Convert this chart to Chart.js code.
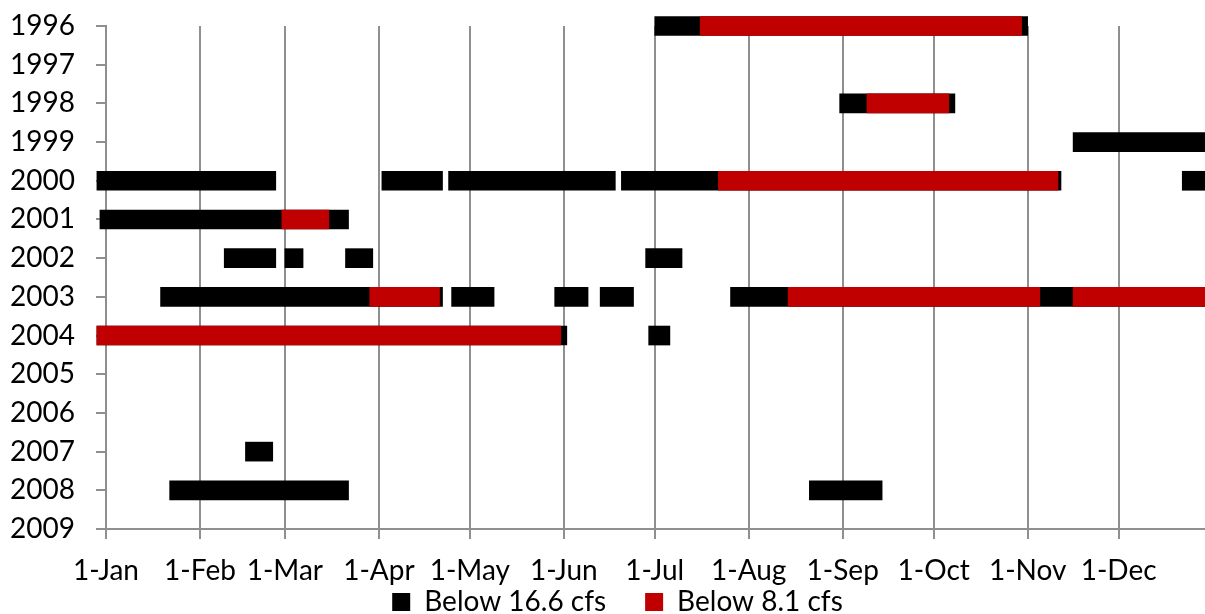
<!DOCTYPE html>
<html>
<head>
<meta charset="utf-8">
<script src="https://cdn.jsdelivr.net/npm/chart.js@4"></script>
<style>
  html, body { margin: 0; padding: 0; background: #ffffff; overflow: hidden; }
  #wrap { width: 1205px; height: 614px; position: relative; }
</style>
</head>
<body>
<div id="wrap"><canvas id="c" width="1205" height="614"></canvas></div>
<script>
// Categories (years, top to bottom)
const years = ['1996','1997','1998','1999','2000','2001','2002','2003','2004','2005','2006','2007','2008','2009'];

// Month tick positions (day of year) and labels
const monthStartDays = [0, 31, 59, 90, 120, 151, 181, 212, 243, 273, 304, 334];
const monthLabels = ['1-Jan','1-Feb','1-Mar','1-Apr','1-May','1-Jun','1-Jul','1-Aug','1-Sep','1-Oct','1-Nov','1-Dec'];

// Periods below 16.6 cfs: [year, start day, end day]
const below166 = [
  ['1996', 181, 304],
  ['1998', 242, 280],
  ['1999', 319, 365],
  ['2000', -3, 56], ['2000', 91, 111], ['2000', 113, 168], ['2000', 170, 315], ['2000', 355, 365],
  ['2001', -2, 80],
  ['2002', 39, 56], ['2002', 59, 65], ['2002', 79, 88], ['2002', 178, 190],
  ['2003', 18, 111], ['2003', 114, 128], ['2003', 148, 159], ['2003', 163, 174], ['2003', 206, 365],
  ['2004', -3, 152], ['2004', 179, 186],
  ['2007', 46, 55],
  ['2008', 21, 80], ['2008', 232, 256]
];

// Periods below 8.1 cfs: [year, start day, end day]
const below81 = [
  ['1996', 196, 302],
  ['1998', 251, 278],
  ['2000', 202, 314],
  ['2001', 58, 73.5],
  ['2003', 87, 110], ['2003', 225, 308], ['2003', 319, 365],
  ['2004', -3, 150]
];

const seriesNames = ['Below 16.6 cfs', 'Below 8.1 cfs'];
const seriesColors = ['#000000', '#c00000'];

const toPoints = rows => rows.map(r => ({ y: r[0], x: [r[1], r[2]] }));

const gridGrey = '#8f8f8f';
const FONT = 'Lato, "Open Sans", sans-serif';

// Place the legend just under the axis labels, nudged right like the original
const legendPlace = {
  id: 'legendPlace',
  afterLayout(chart) {
    const lg = chart.legend;
    if (!lg) return;
    const h = lg.height;
    lg.top = chart.chartArea.bottom + 20;
    lg.bottom = lg.top + h;
    lg.left += 15; lg.right += 15;
  }
};

new Chart(document.getElementById('c'), {
  type: 'bar',
  data: {
    labels: years,
    datasets: [
      { label: seriesNames[0], data: toPoints(below166), backgroundColor: seriesColors[0], borderWidth: 0, order: 1 },
      { label: seriesNames[1], data: toPoints(below81), backgroundColor: seriesColors[1], borderWidth: 0, order: 0 }
    ]
  },
  plugins: [legendPlace],
  options: {
    indexAxis: 'y',
    responsive: false,
    devicePixelRatio: 1,
    animation: false,
    datasets: { bar: { grouped: false, barThickness: 19, clip: false } },
    layout: { padding: { top: 26, right: 0, bottom: -52, left: 0 } },
    scales: {
      x: {
        type: 'linear',
        min: 0,
        max: 362.5,
        afterBuildTicks: s => { s.ticks = monthStartDays.map(v => ({ value: v })); },
        afterFit: s => { s.height = 60; s.paddingLeft = 0; s.paddingRight = 0; },
        ticks: {
          autoSkip: false,
          maxRotation: 0,
          padding: 15,
          color: '#000000',
          font: { family: FONT, size: 28 },
          callback: (v, i) => monthLabels[i]
        },
        grid: { color: gridGrey, lineWidth: 2, tickLength: 10, drawTicks: true },
        border: { display: true, color: gridGrey, width: 2 }
      },
      y: {
        type: 'category',
        offset: false,
        afterFit: s => { s.width = 106; s.paddingTop = 0; s.paddingBottom = 0; },
        ticks: {
          autoSkip: false,
          padding: 21,
          color: '#000000',
          font: { family: FONT, size: 28 }
        },
        grid: { offset: false, drawOnChartArea: false, drawTicks: true, tickLength: 10, color: gridGrey, lineWidth: 2 },
        border: { display: true, color: gridGrey, width: 2 }
      }
    },
    plugins: {
      tooltip: { enabled: false },
      legend: {
        position: 'bottom',
        labels: {
          color: '#000000',
          font: { family: FONT, size: 28 },
          boxWidth: 18,
          boxHeight: 18,
          padding: 39,
          sort: (a, b) => a.datasetIndex - b.datasetIndex
        }
      }
    }
  }
});
</script>
</body>
</html>
